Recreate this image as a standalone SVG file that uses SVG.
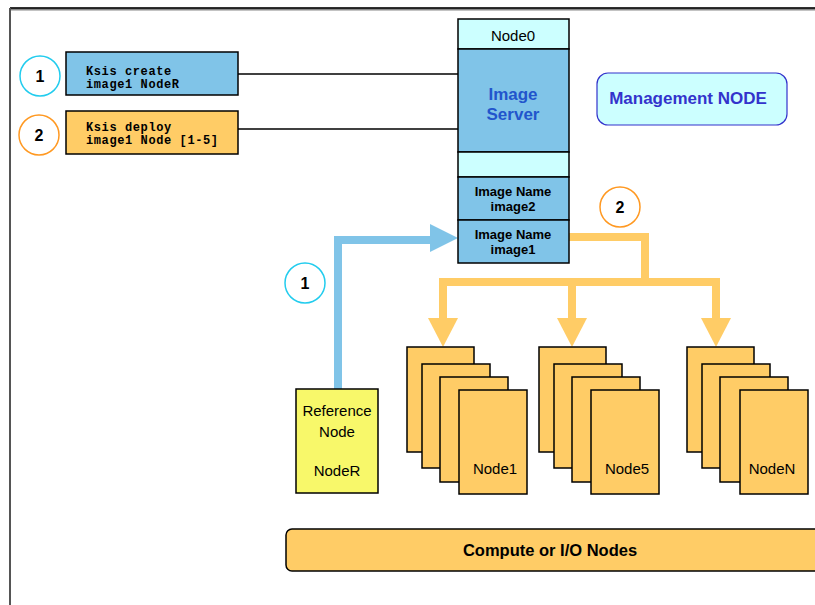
<svg xmlns="http://www.w3.org/2000/svg" width="815" height="605" viewBox="0 0 815 605">
<style>
.t{font-family:"Liberation Sans",Arial,sans-serif;fill:#000}
.b{font-weight:bold}
.m{font-family:"Liberation Mono","Courier New",monospace;font-weight:bold;font-size:12px;letter-spacing:0.6px;fill:#000}
.bl{fill:#80c4e8;stroke:#000;stroke-width:1.5}
.or{fill:#ffcc66;stroke:#000;stroke-width:1.5}
.cy{fill:#ccffff;stroke:#000;stroke-width:1.5}
.ye{fill:#f8f86a;stroke:#000;stroke-width:1.5}
</style>
<rect width="815" height="605" fill="#fff"/>
<g id="frame">
<line x1="10" y1="9" x2="815" y2="9" stroke="#888" stroke-width="3"/>
<line x1="10" y1="8" x2="815" y2="8" stroke="#000" stroke-width="1.5"/>
<line x1="10" y1="8" x2="10" y2="605" stroke="#555" stroke-width="2"/>
</g>
<g id="connectors">
<line x1="238" y1="74" x2="458" y2="74" stroke="#000" stroke-width="1.5"/>
<line x1="238" y1="129" x2="458" y2="129" stroke="#000" stroke-width="1.5"/>
<polyline points="338,389 338,240 432,240" fill="none" stroke="#80c4e8" stroke-width="8"/>
<polygon points="430,224 458,238 430,252" fill="#80c4e8"/>
<polyline points="569,237 645,237 645,282" fill="none" stroke="#ffcc66" stroke-width="8"/>
<polyline points="443,320 443,282 716,282 716,320" fill="none" stroke="#ffcc66" stroke-width="8"/>
<line x1="572" y1="282" x2="572" y2="320" stroke="#ffcc66" stroke-width="8"/>
<polygon points="428,318 458,318 443,347" fill="#ffcc66"/>
<polygon points="557,318 587,318 572,347" fill="#ffcc66"/>
<polygon points="701,318 731,318 716,347" fill="#ffcc66"/>
</g>
<g id="step1">
<circle cx="40" cy="76" r="20" fill="#fff" stroke="#22ccee" stroke-width="1.5"/>
<text class="t b" x="40" y="82" font-size="16" text-anchor="middle">1</text>
<rect class="bl" x="66" y="52" width="172" height="43"/>
<text class="m" x="86" y="75">Ksis create</text>
<text class="m" x="86" y="88">image1 NodeR</text>
</g>
<g id="step2">
<circle cx="39" cy="135" r="20" fill="#fff" stroke="#ff9922" stroke-width="1.5"/>
<text class="t b" x="39" y="141" font-size="16" text-anchor="middle">2</text>
<rect class="or" x="66" y="111" width="172" height="43"/>
<text class="m" x="86" y="131">Ksis deploy</text>
<text class="m" x="86" y="144">image1 Node [1-5]</text>
</g>
<g id="node0">
<rect class="cy" x="458" y="19" width="111" height="30"/>
<text class="t" x="513" y="41" font-size="15" text-anchor="middle">Node0</text>
<rect class="bl" x="458" y="49" width="111" height="103"/>
<text class="t b" x="513" y="100" font-size="17" text-anchor="middle" style="fill:#2255cc">Image</text>
<text class="t b" x="513" y="120" font-size="17" text-anchor="middle" style="fill:#2255cc">Server</text>
<rect class="cy" x="458" y="152" width="111" height="25"/>
<rect class="bl" x="458" y="177" width="111" height="43"/>
<text class="t b" x="513" y="196" font-size="13" text-anchor="middle">Image Name</text>
<text class="t b" x="513" y="211" font-size="13" text-anchor="middle">image2</text>
<rect class="bl" x="458" y="220" width="111" height="43"/>
<text class="t b" x="513" y="239" font-size="13" text-anchor="middle">Image Name</text>
<text class="t b" x="513" y="254" font-size="13" text-anchor="middle">image1</text>
</g>
<g id="management">
<rect x="597" y="73" width="190" height="52" rx="11" fill="#ccffff" stroke="#3333cc" stroke-width="1.2"/>
<text class="t b" x="688" y="104" font-size="17" text-anchor="middle" style="fill:#3333cc">Management NODE</text>
</g>
<g id="label2">
<circle cx="620" cy="207" r="20" fill="#fff" stroke="#ff9922" stroke-width="1.5"/>
<text class="t b" x="620" y="213" font-size="16" text-anchor="middle">2</text>
</g>
<g id="label1">
<circle cx="305" cy="283" r="20" fill="#fff" stroke="#22ccee" stroke-width="1.5"/>
<text class="t b" x="305" y="289" font-size="16" text-anchor="middle">1</text>
</g>
<g id="noderef">
<rect class="ye" x="296" y="389" width="82" height="104"/>
<text class="t" x="337" y="416" font-size="15" text-anchor="middle">Reference</text>
<text class="t" x="337" y="437" font-size="15" text-anchor="middle">Node</text>
<text class="t" x="337" y="476" font-size="15" text-anchor="middle">NodeR</text>
</g>
<g id="node1">
<rect class="or" x="407" y="347" width="67" height="105"/>
<rect class="or" x="422" y="364" width="68" height="104"/>
<rect class="or" x="440" y="377" width="68" height="105"/>
<rect class="or" x="459" y="390" width="68" height="104"/>
<text class="t" x="495" y="474" font-size="15" text-anchor="middle">Node1</text>
</g>
<g id="node5">
<rect class="or" x="539" y="347" width="67" height="105"/>
<rect class="or" x="554" y="364" width="68" height="104"/>
<rect class="or" x="572" y="377" width="68" height="105"/>
<rect class="or" x="591" y="390" width="68" height="104"/>
<text class="t" x="627" y="474" font-size="15" text-anchor="middle">Node5</text>
</g>
<g id="nodeN">
<rect class="or" x="687" y="347" width="67" height="105"/>
<rect class="or" x="702" y="364" width="68" height="104"/>
<rect class="or" x="720" y="377" width="68" height="105"/>
<rect class="or" x="740" y="390" width="68" height="104"/>
<text class="t" x="772" y="474" font-size="15" text-anchor="middle">NodeN</text>
</g>
<g id="compute">
<rect x="286" y="529" width="540" height="42" rx="6" fill="#ffcc66" stroke="#000" stroke-width="1.5"/>
<text class="t b" x="550" y="556" font-size="16.5" text-anchor="middle">Compute or I/O Nodes</text>
</g>
</svg>
